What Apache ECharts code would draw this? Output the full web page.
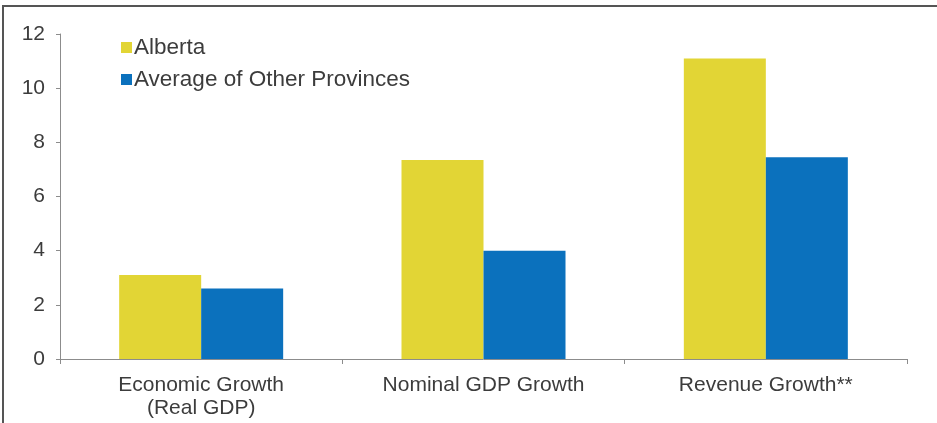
<!DOCTYPE html>
<html>
<head>
<meta charset="utf-8">
<script src="https://cdn.jsdelivr.net/npm/echarts@6/dist/echarts.min.js"></script>
<style>
  html, body { margin: 0; padding: 0; background: #ffffff; }
  #chart { width: 937px; height: 423px; }
</style>
</head>
<body>
<div id="chart"></div>
<script>
// Growth comparison: Alberta vs. the average of the other provinces (%)
const categories = ['Economic Growth\n(Real GDP)', 'Nominal GDP Growth', 'Revenue Growth**'];
const albertaValues = [3.1, 7.35, 11.1];
const otherProvincesValues = [2.6, 4.0, 7.45];
const seriesNames = ['Alberta', 'Average of Other Provinces'];
const yTicks = { min: 0, max: 12, interval: 2 };

const textColor = '#3c3c3c';
const axisColor = '#8c8c8c';
const fontFamily = 'Liberation Sans, Arial, sans-serif';

const chart = echarts.init(document.getElementById('chart'), null, { renderer: 'canvas' });

chart.setOption({
  animation: false,
  backgroundColor: '#ffffff',
  textStyle: { fontFamily: fontFamily },
  grid: { left: 60, right: 30, top: 34, bottom: 64, containLabel: false },
  legend: {
    orient: 'vertical',
    left: 121,
    top: 36,
    padding: 0,
    itemWidth: 11,
    itemHeight: 11,
    itemGap: 9,
    icon: 'rect',
    textStyle: { color: textColor, fontSize: 22.5, fontFamily: fontFamily, padding: [0, 0, 0, -3] },
    data: seriesNames
  },
  xAxis: {
    type: 'category',
    data: categories,
    axisLine: { show: true, lineStyle: { color: axisColor, width: 1 } },
    axisTick: { show: true, alignWithLabel: false, length: 5, lineStyle: { color: axisColor } },
    axisLabel: {
      color: textColor,
      fontSize: 21,
      lineHeight: 23,
      margin: 15,
      interval: 0
    },
    splitLine: { show: false }
  },
  yAxis: {
    type: 'value',
    min: yTicks.min,
    max: yTicks.max,
    interval: yTicks.interval,
    axisLine: { show: true, lineStyle: { color: axisColor, width: 1 } },
    axisTick: { show: true, length: 4, lineStyle: { color: axisColor } },
    axisLabel: { color: textColor, fontSize: 21, margin: 15 },
    splitLine: { show: false }
  },
  series: [
    {
      name: seriesNames[0],
      type: 'bar',
      data: albertaValues,
      barWidth: 82,
      barGap: '0%',
      itemStyle: { color: '#E2D535' }
    },
    {
      name: seriesNames[1],
      type: 'bar',
      data: otherProvincesValues,
      barWidth: 82,
      barGap: '0%',
      itemStyle: { color: '#0B71BD' }
    }
  ],
  graphic: [
    {
      type: 'polyline',
      silent: true,
      shape: { points: [[3, 423], [3, 6], [937, 6]] },
      style: { stroke: '#555555', lineWidth: 2, fill: null }
    }
  ]
});
</script>
</body>
</html>
